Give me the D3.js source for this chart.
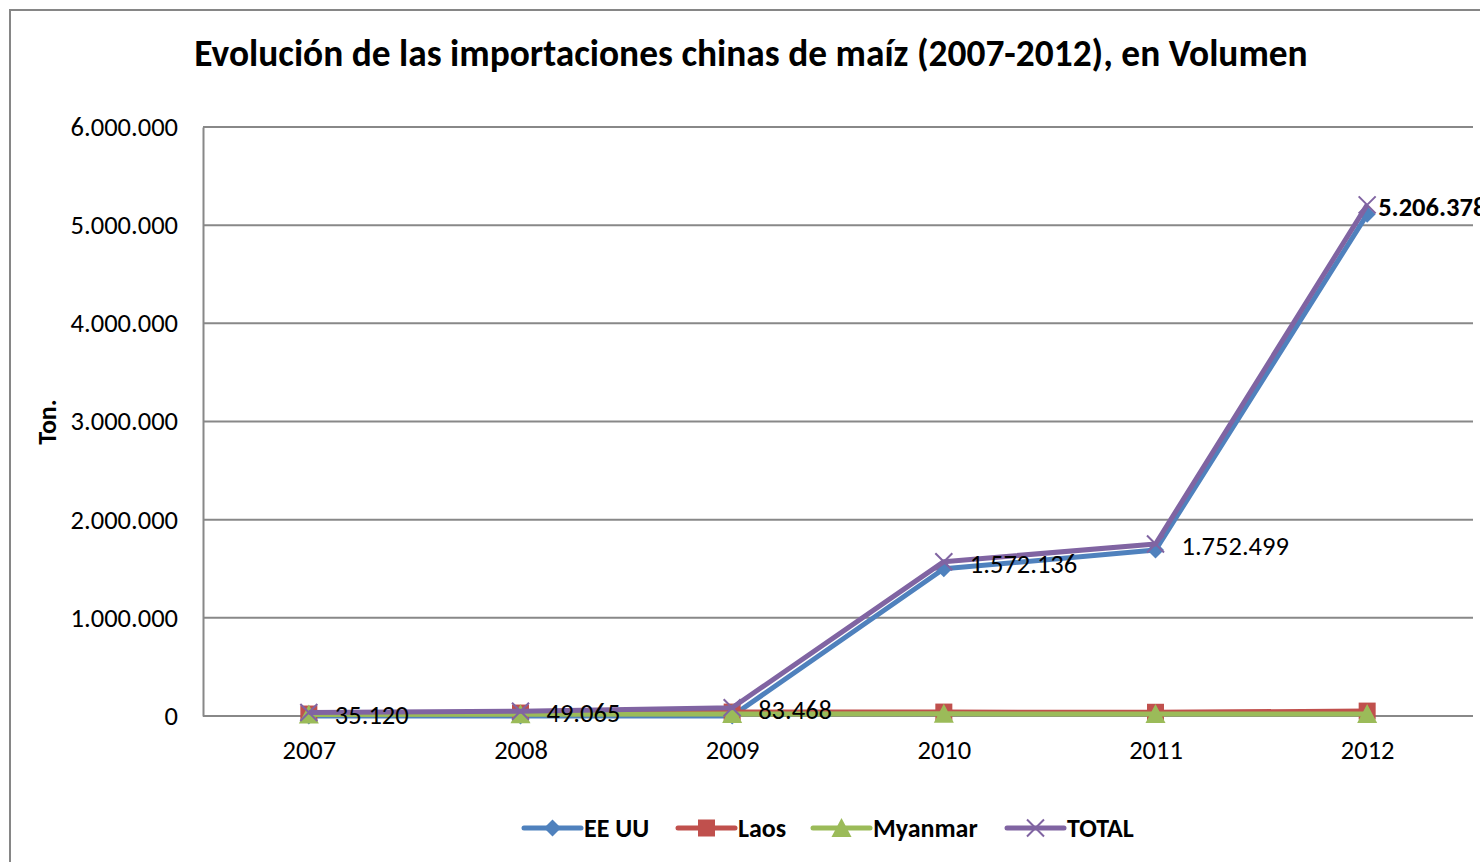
<!DOCTYPE html>
<html>
<head>
<meta charset="utf-8">
<script src="https://cdn.jsdelivr.net/npm/d3@7"></script>
<style>
  body { margin:0; background:#fff; }
  svg { display:block; font-family: Carlito, Calibri, Lato, sans-serif; }
  .grid line { stroke:#888; stroke-width:2; }
  .axis path, .axis line { stroke:#888; stroke-width:2; }
  .axis text { fill:#000; font-size:26.5px; font-family: Carlito, Calibri, Lato, sans-serif; }
</style>
</head>
<body>
<script>
// data
var years = ["2007", "2008", "2009", "2010", "2011", "2012"];
var eeuu    = [0, 0, 0, 1500000, 1690000, 5110000];
var laos    = [20000, 30000, 40000, 40000, 38000, 50000];
var myanmar = [15000, 19000, 20000, 22000, 20000, 20000];
var total   = [35120, 49065, 83468, 1572136, 1752499, 5206378];
var yTicks  = [0, 1000000, 2000000, 3000000, 4000000, 5000000, 6000000];

var series = [
  {name: "EE UU", values: eeuu, color: "#4F81BD", marker: "diamond"},
  {name: "Laos", values: laos, color: "#C0504D", marker: "square"},
  {name: "Myanmar", values: myanmar, color: "#9BBB59", marker: "triangle"},
  {name: "TOTAL", values: total, color: "#8064A2", marker: "x"}
];

var W = 1480, H = 862;
var margin = {top: 127, right: 7, bottom: 146, left: 203};

var svg = d3.select("body").append("svg")
  .attr("width", W).attr("height", H);

// chart frame (right and bottom edges fall outside the picture)
svg.append("rect")
  .attr("x", 10).attr("y", 10)
  .attr("width", 1600).attr("height", 1000)
  .attr("fill", "#fff").attr("stroke", "#868686").attr("stroke-width", 2);

var x = d3.scalePoint().domain(years)
  .range([margin.left, W - margin.right]).padding(0.5);
var y = d3.scaleLinear().domain([0, 6000000])
  .range([H - margin.bottom, margin.top]);

var fmt = function(v) {
  return d3.format(",")(v).replace(/,/g, ".");
};

// gridlines
svg.append("g").attr("class", "grid")
  .selectAll("line").data(yTicks.slice(1)).enter().append("line")
  .attr("x1", margin.left).attr("x2", W - margin.right)
  .attr("y1", function(d) { return y(d); })
  .attr("y2", function(d) { return y(d); });

// axes
svg.append("g").attr("class", "axis")
  .attr("transform", "translate(" + margin.left + ",0)")
  .call(d3.axisLeft(y).tickValues(yTicks).tickSize(0).tickPadding(25).tickFormat(fmt));

var xAxis = svg.append("g").attr("class", "axis")
  .attr("transform", "translate(0," + (H - margin.bottom) + ")")
  .call(d3.axisBottom(x).tickSize(0).tickPadding(24));
xAxis.select(".domain").attr("d", "M" + margin.left + ",0H" + (W - margin.right));

svg.append("text")
  .attr("transform", "translate(56,422) rotate(-90)")
  .attr("text-anchor", "middle")
  .style("font-size", "26px").style("font-weight", "bold")
  .text("Ton.");

svg.append("text")
  .attr("x", 751).attr("y", 66)
  .attr("text-anchor", "middle")
  .style("font-size", "37.4px").style("font-weight", "bold")
  .text("Evolución de las importaciones chinas de maíz (2007-2012), en Volumen");

function drawMarker(g, type, color) {
  if (type === "diamond") {
    g.append("path").attr("d", "M0,-8.5L8.5,0L0,8.5L-8.5,0Z").attr("fill", color);
  } else if (type === "square") {
    g.append("rect").attr("x", -8.5).attr("y", -8.5).attr("width", 17).attr("height", 17).attr("fill", color);
  } else if (type === "triangle") {
    g.append("path").attr("d", "M0,-10L10,9L-10,9Z").attr("fill", color);
  } else {
    g.append("path").attr("d", "M-8.5,-8.5L8.5,8.5M-8.5,8.5L8.5,-8.5")
      .attr("stroke", color).attr("stroke-width", 2).attr("fill", "none");
  }
}

var line = d3.line()
  .x(function(d, i) { return x(years[i]); })
  .y(function(d) { return y(d); });

series.forEach(function(s) {
  svg.append("path")
    .attr("d", line(s.values))
    .attr("fill", "none")
    .attr("stroke", s.color)
    .attr("stroke-width", 5)
    .attr("stroke-linejoin", "round");
  s.values.forEach(function(v, i) {
    var g = svg.append("g")
      .attr("transform", "translate(" + x(years[i]) + "," + y(v) + ")");
    drawMarker(g, s.marker, s.color);
  });
});

// data labels for TOTAL (the last one runs off the right edge, as in the original)
svg.selectAll(".lbl").data(total).enter().append("text")
  .attr("class", "lbl")
  .attr("x", function(d, i) { return x(years[i]) + (i === 5 ? 11 : 26); })
  .attr("y", function(d) { return y(d) + 2; })
  .attr("dy", "0.35em")
  .style("font-size", "26.5px")
  .style("font-weight", function(d, i) { return i === 5 ? "bold" : "normal"; })
  .text(function(d) { return fmt(d); });

// legend
var legendX = [524, 678, 813, 1007];
var legend = svg.selectAll(".leg").data(series).enter().append("g")
  .attr("class", "leg")
  .attr("transform", function(d, i) { return "translate(" + legendX[i] + ",828)"; });
legend.append("line")
  .attr("x1", 0).attr("x2", 57)
  .attr("stroke", function(d) { return d.color; })
  .attr("stroke-width", 5).attr("stroke-linecap", "round");
legend.each(function(d) {
  var g = d3.select(this).append("g").attr("transform", "translate(28.5,0)");
  drawMarker(g, d.marker, d.color);
});
legend.append("text")
  .attr("x", 60).attr("dy", "0.35em")
  .style("font-size", "26px").style("font-weight", "bold")
  .text(function(d) { return d.name; });
</script>
</body>
</html>
